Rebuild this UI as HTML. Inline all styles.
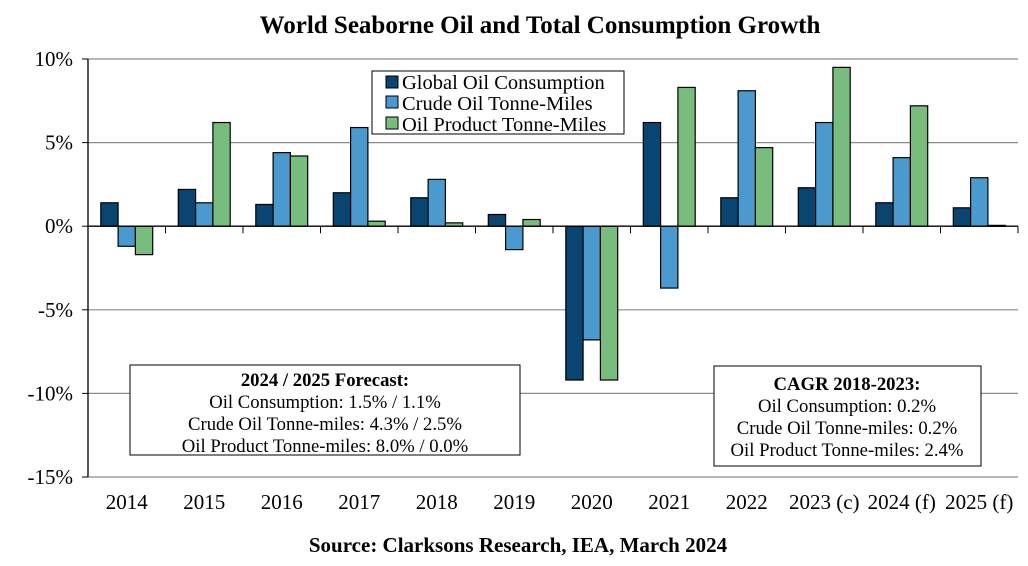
<!DOCTYPE html>
<html><head><meta charset="utf-8"><style>
body{margin:0;background:#fff}
svg{display:block;font-family:"Liberation Serif",serif}
</style></head><body>
<svg id="c" width="1028" height="566">
<text x="540" y="33" text-anchor="middle" font-size="25" font-weight="bold">World Seaborne Oil and Total Consumption Growth</text>
<g id="grid"></g><g id="bars"></g><g id="axes"></g>
<g>
<rect x="372" y="71" width="252" height="63" fill="#fff" stroke="#000" stroke-width="1"/>
<rect x="386" y="76" width="12" height="12" fill="#0a4470" stroke="#000"/>
<text x="402" y="89" font-size="20.5">Global Oil Consumption</text>
<rect x="386" y="96" width="12" height="12" fill="#4a9ad0" stroke="#000"/>
<text x="402" y="110" font-size="20.5">Crude Oil Tonne-Miles</text>
<rect x="386" y="117" width="12" height="12" fill="#78bc7e" stroke="#000"/>
<text x="402" y="131" font-size="20.5">Oil Product Tonne-Miles</text>
</g>
<g font-size="18.7" text-anchor="middle">
<rect x="130" y="365" width="390" height="90" fill="#fff" stroke="#000"/>
<text x="325" y="386" font-weight="bold">2024 / 2025 Forecast:</text>
<text x="325" y="408">Oil Consumption: 1.5% / 1.1%</text>
<text x="325" y="430">Crude Oil Tonne-miles: 4.3% / 2.5%</text>
<text x="325" y="452">Oil Product Tonne-miles: 8.0% / 0.0%</text>
</g>
<g font-size="18.7" text-anchor="middle">
<rect x="714" y="366" width="267" height="100" fill="#fff" stroke="#000"/>
<text x="847" y="390" font-weight="bold">CAGR 2018-2023:</text>
<text x="847" y="412">Oil Consumption: 0.2%</text>
<text x="847" y="434">Crude Oil Tonne-miles: 0.2%</text>
<text x="847" y="456">Oil Product Tonne-miles: 2.4%</text>
</g>
<text x="518" y="552" text-anchor="middle" font-size="21" font-weight="bold">Source: Clarksons Research, IEA, March 2024</text>
</svg>
<script>
const categories=["2014","2015","2016","2017","2018","2019","2020","2021","2022","2023 (c)","2024 (f)","2025 (f)"];
const consumption=[1.4,2.2,1.3,2.0,1.7,0.7,-9.2,6.2,1.7,2.3,1.4,1.1];
const crude=[-1.2,1.4,4.4,5.9,2.8,-1.4,-6.8,-3.7,8.1,6.2,4.1,2.9];
const product=[-1.7,6.2,4.2,0.3,0.2,0.4,-9.2,8.3,4.7,9.5,7.2,0.05];
const yTicks=[10,5,0,-5,-10,-15];
const yTickLabels=["10%","5%","0%","-5%","-10%","-15%"];
const NS="http://www.w3.org/2000/svg";
const L=88,R=1018,yTop=59,yBot=477,vMax=10,vMin=-15;
const y=v=>yTop+(vMax-v)/(vMax-vMin)*(yBot-yTop);
const cw=(R-L)/categories.length;
const x=i=>L+cw*i;
function mk(t,a,p){const e=document.createElementNS(NS,t);for(const k in a)e.setAttribute(k,a[k]);p.appendChild(e);return e;}
const grid=document.getElementById('grid'),bars=document.getElementById('bars'),axes=document.getElementById('axes');
yTicks.forEach((v,i)=>{
 if(v!==0){const g=mk('line',{x1:L,x2:R,y1:y(v),y2:y(v),stroke:'#8c8c8c','stroke-width':1.2},grid);
 
 }
 mk('line',{x1:L-6,x2:L,y1:y(v),y2:y(v),stroke:'#000'},axes);
 const t=mk('text',{x:L-15,y:y(v)+7,'text-anchor':'end','font-size':21},axes);t.textContent=yTickLabels[i];
 
 
});
const series=[[consumption,'#0a4470','consumption'],[crude,'#4a9ad0','crude'],[product,'#78bc7e','product']];
const bw=17.3;
categories.forEach((c,i)=>{
 const cx=x(i)+cw/2;
 series.forEach((s,j)=>{
  const v=s[0][i];const bx=cx-1.5*bw+j*bw;
  const r=mk('rect',{x:bx,y:Math.min(y(v),y(0)),width:bw,height:Math.max(Math.abs(y(v)-y(0)),1),fill:s[1],stroke:'#000','stroke-width':1.2},bars);
  
  
 });
 const t=mk('text',{x:cx,y:509,'text-anchor':'middle','font-size':21},axes);t.textContent=c;
 
 
 if(i>0)mk('line',{x1:x(i),x2:x(i),y1:y(0),y2:y(0)+7,stroke:'#000'},axes);
});
mk('line',{x1:R,x2:R,y1:y(0),y2:y(0)+7,stroke:'#000'},axes);
const z=mk('line',{x1:L,x2:R,y1:y(0),y2:y(0),stroke:'#000','stroke-width':1.3},axes);


const ya=mk('line',{x1:L,x2:L,y1:yTop,y2:yBot,stroke:'#000','stroke-width':1.3},axes);


</script>
</body></html>
